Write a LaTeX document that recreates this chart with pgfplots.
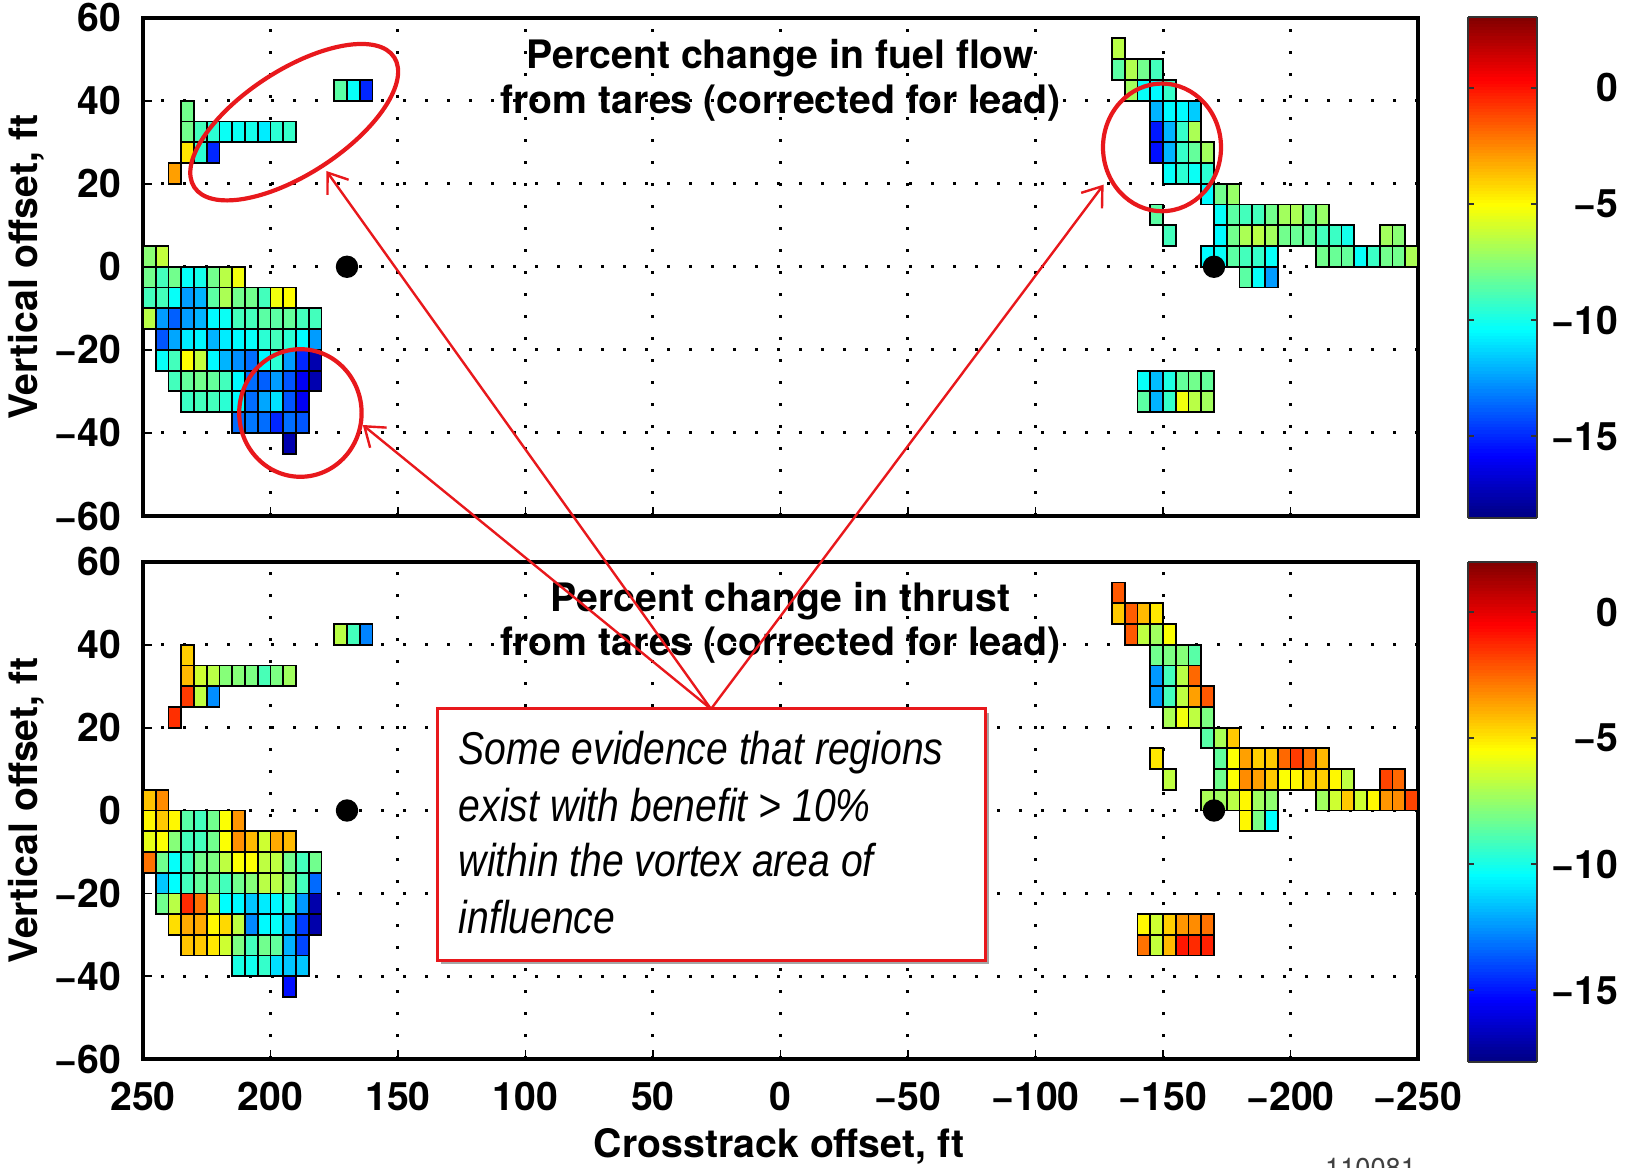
\documentclass[border=0pt]{standalone}
\usepackage{pgfplots}
\pgfplotsset{compat=1.18}
\usepackage{pgfplotstable}
\usepackage{fontspec}
\usepackage{graphicx}
\setmainfont{TeX Gyre Heros}
\newfontfamily\notefam{Liberation Sans}
\usetikzlibrary{arrows.meta,shadows}

\definecolor{annored}{RGB}{232,24,28}
\newcommand{\lblfont}{\fontsize{9.8pt}{11.5pt}\selectfont\bfseries}
\newcommand{\notefont}{\notefam\fontsize{11.5pt}{14pt}\selectfont\itshape}

% one measurement cell = 5 ft x 5 ft on each panel
\pgfdeclareplotmark{cellT}{\pgfpathrectangle{\pgfqpoint{-1.59375pt}{-2.5958pt}}{\pgfqpoint{3.1875pt}{5.1917pt}}\pgfusepathqfillstroke}
\pgfdeclareplotmark{cellB}{\pgfpathrectangle{\pgfqpoint{-1.59375pt}{-2.5906pt}}{\pgfqpoint{3.1875pt}{5.1813pt}}\pgfusepathqfillstroke}

% ---------------- fuel flow change, % (cell centres) ----------------
\pgfplotstableread{
x y c
237.5 22.5 -3.0
232.5 37.5 -8.0
232.5 32.5 -8.0
232.5 27.5 -4.5
227.5 32.5 -9.0
222.5 32.5 -9.5
217.5 32.5 -10.2
212.5 32.5 -10.2
207.5 32.5 -10.0
202.5 32.5 -10.8
197.5 32.5 -9.5
192.5 32.5 -9.3
227.5 27.5 -9.5
222.5 27.5 -15.0
172.5 42.5 -8.5
167.5 42.5 -10.3
162.5 42.5 -15.0
247.5 2.5 -7.5
242.5 2.5 -6.3
247.5 -2.5 -8.0
242.5 -2.5 -9.0
237.5 -2.5 -8.0
232.5 -2.5 -10.3
227.5 -2.5 -10.0
222.5 -2.5 -8.0
217.5 -2.5 -6.5
212.5 -2.5 -5.3
247.5 -7.5 -9.0
242.5 -7.5 -9.0
237.5 -7.5 -10.3
232.5 -7.5 -12.5
227.5 -7.5 -12.0
222.5 -7.5 -8.5
217.5 -7.5 -6.8
212.5 -7.5 -8.0
207.5 -7.5 -8.0
202.5 -7.5 -9.0
197.5 -7.5 -5.3
192.5 -7.5 -5.0
247.5 -12.5 -6.5
242.5 -12.5 -12.5
237.5 -12.5 -13.8
232.5 -12.5 -12.5
227.5 -12.5 -12.0
222.5 -12.5 -10.5
217.5 -12.5 -10.2
212.5 -12.5 -9.0
207.5 -12.5 -9.0
202.5 -12.5 -8.5
197.5 -12.5 -8.5
192.5 -12.5 -8.3
187.5 -12.5 -9.0
182.5 -12.5 -9.0
242.5 -17.5 -14.0
237.5 -17.5 -12.3
232.5 -17.5 -10.8
227.5 -17.5 -10.6
222.5 -17.5 -12.0
217.5 -17.5 -10.8
212.5 -17.5 -10.5
207.5 -17.5 -10.3
202.5 -17.5 -9.5
197.5 -17.5 -9.0
192.5 -17.5 -9.5
187.5 -17.5 -10.5
182.5 -17.5 -12.5
242.5 -22.5 -10.3
237.5 -22.5 -9.0
232.5 -22.5 -5.0
227.5 -22.5 -6.3
222.5 -22.5 -10.5
217.5 -22.5 -12.0
212.5 -22.5 -12.8
207.5 -22.5 -13.5
202.5 -22.5 -10.5
197.5 -22.5 -9.5
192.5 -22.5 -12.5
187.5 -22.5 -15.0
182.5 -22.5 -17.5
237.5 -27.5 -9.0
232.5 -27.5 -8.3
227.5 -27.5 -8.0
222.5 -27.5 -8.3
217.5 -27.5 -9.0
212.5 -27.5 -10.5
207.5 -27.5 -13.5
202.5 -27.5 -13.8
197.5 -27.5 -12.5
192.5 -27.5 -14.0
187.5 -27.5 -16.0
182.5 -27.5 -17.5
232.5 -32.5 -9.2
227.5 -32.5 -9.0
222.5 -32.5 -9.0
217.5 -32.5 -9.5
212.5 -32.5 -10.5
207.5 -32.5 -13.5
202.5 -32.5 -12.3
197.5 -32.5 -11.0
192.5 -32.5 -14.0
187.5 -32.5 -16.0
212.5 -37.5 -13.5
207.5 -37.5 -13.3
202.5 -37.5 -13.5
197.5 -37.5 -15.0
192.5 -37.5 -13.5
187.5 -37.5 -14.0
192.5 -42.5 -17.5
}\fuelleft

\pgfplotstableread{
x y c
-132.5 52.5 -6.5
-132.5 47.5 -8.5
-137.5 47.5 -6.7
-142.5 47.5 -8.0
-147.5 47.5 -9.0
-137.5 42.5 -7.0
-142.5 42.5 -10.3
-147.5 42.5 -10.5
-152.5 42.5 -9.3
-147.5 37.5 -12.0
-152.5 37.5 -10.5
-157.5 37.5 -10.5
-162.5 37.5 -11.5
-147.5 32.5 -15.3
-152.5 32.5 -12.0
-157.5 32.5 -9.3
-162.5 32.5 -6.8
-147.5 27.5 -15.5
-152.5 27.5 -12.0
-157.5 27.5 -9.3
-162.5 27.5 -8.3
-167.5 27.5 -7.0
-152.5 22.5 -10.3
-157.5 22.5 -9.5
-162.5 22.5 -10.2
-167.5 22.5 -9.5
-167.5 17.5 -10.5
-172.5 17.5 -8.0
-177.5 17.5 -7.2
-147.5 12.5 -8.5
-172.5 12.5 -10.3
-177.5 12.5 -8.5
-182.5 12.5 -9.0
-187.5 12.5 -9.0
-192.5 12.5 -8.0
-197.5 12.5 -7.0
-202.5 12.5 -6.8
-207.5 12.5 -8.0
-212.5 12.5 -7.2
-152.5 7.5 -9.0
-172.5 7.5 -10.5
-177.5 7.5 -8.0
-182.5 7.5 -6.8
-187.5 7.5 -6.5
-192.5 7.5 -7.0
-197.5 7.5 -8.0
-202.5 7.5 -8.2
-207.5 7.5 -8.3
-212.5 7.5 -9.0
-217.5 7.5 -9.2
-222.5 7.5 -10.0
-237.5 7.5 -7.0
-242.5 7.5 -7.5
-167.5 2.5 -10.5
-172.5 2.5 -10.3
-177.5 2.5 -8.5
-182.5 2.5 -9.0
-187.5 2.5 -9.3
-192.5 2.5 -10.3
-212.5 2.5 -8.0
-217.5 2.5 -8.2
-222.5 2.5 -8.3
-227.5 2.5 -10.3
-232.5 2.5 -9.2
-237.5 2.5 -8.0
-242.5 2.5 -8.0
-247.5 2.5 -6.8
-182.5 -2.5 -8.5
-187.5 -2.5 -10.3
-192.5 -2.5 -12.5
-142.5 -27.5 -10.3
-147.5 -27.5 -11.8
-152.5 -27.5 -9.8
-157.5 -27.5 -8.3
-162.5 -27.5 -8.0
-167.5 -27.5 -8.3
-142.5 -32.5 -8.5
-147.5 -32.5 -12.0
-152.5 -32.5 -9.3
-157.5 -32.5 -5.3
-162.5 -32.5 -6.5
-167.5 -32.5 -7.0
}\fuelright

% ---------------- thrust change, % (cell centres) ----------------
\pgfplotstableread{
x y c
237.5 22.5 -1.4
232.5 37.5 -4.5
232.5 32.5 -4.1
232.5 27.5 -1.6
227.5 32.5 -6.4
222.5 32.5 -6.8
217.5 32.5 -7.8
212.5 32.5 -7.8
207.5 32.5 -8.0
202.5 32.5 -9.0
197.5 32.5 -8.0
192.5 32.5 -7.3
227.5 27.5 -6.7
222.5 27.5 -12.6
172.5 42.5 -6.8
167.5 42.5 -9.1
162.5 42.5 -12.8
247.5 2.5 -4.3
242.5 2.5 -3.2
247.5 -2.5 -5.3
242.5 -2.5 -4.4
237.5 -2.5 -5.3
232.5 -2.5 -8.7
227.5 -2.5 -9.1
222.5 -2.5 -8.2
217.5 -2.5 -5.5
212.5 -2.5 -3.4
247.5 -7.5 -5.9
242.5 -7.5 -5.5
237.5 -7.5 -7.8
232.5 -7.5 -9.1
227.5 -7.5 -9.1
222.5 -7.5 -8.2
217.5 -7.5 -5.5
212.5 -7.5 -3.3
207.5 -7.5 -4.1
202.5 -7.5 -6.4
197.5 -7.5 -3.8
192.5 -7.5 -4.1
247.5 -12.5 -2.7
242.5 -12.5 -8.2
237.5 -12.5 -10.3
232.5 -12.5 -9.1
227.5 -12.5 -8.2
222.5 -12.5 -8.0
217.5 -12.5 -6.7
212.5 -12.5 -5.5
207.5 -12.5 -5.5
202.5 -12.5 -6.7
197.5 -12.5 -6.7
192.5 -12.5 -8.2
187.5 -12.5 -9.1
182.5 -12.5 -8.2
242.5 -17.5 -11.5
237.5 -17.5 -10.4
232.5 -17.5 -9.1
227.5 -17.5 -8.5
222.5 -17.5 -8.2
217.5 -17.5 -9.1
212.5 -17.5 -8.2
207.5 -17.5 -7.8
202.5 -17.5 -6.8
197.5 -17.5 -6.8
192.5 -17.5 -7.8
187.5 -17.5 -9.1
182.5 -17.5 -13.3
242.5 -22.5 -8.2
237.5 -22.5 -6.8
232.5 -22.5 -1.3
227.5 -22.5 -2.7
222.5 -22.5 -6.7
217.5 -22.5 -10.4
212.5 -22.5 -10.5
207.5 -22.5 -11.5
202.5 -22.5 -10.8
197.5 -22.5 -10.5
192.5 -22.5 -9.6
187.5 -22.5 -12.4
182.5 -22.5 -17.0
237.5 -27.5 -4.8
232.5 -27.5 -3.8
227.5 -27.5 -3.8
222.5 -27.5 -5.3
217.5 -27.5 -4.7
212.5 -27.5 -6.7
207.5 -27.5 -12.7
202.5 -27.5 -10.5
197.5 -27.5 -10.3
192.5 -27.5 -11.7
187.5 -27.5 -14.2
182.5 -27.5 -17.0
232.5 -32.5 -4.3
227.5 -32.5 -4.4
222.5 -32.5 -5.0
217.5 -32.5 -6.4
212.5 -32.5 -8.0
207.5 -32.5 -9.1
202.5 -32.5 -8.2
197.5 -32.5 -8.5
192.5 -32.5 -11.9
187.5 -32.5 -14.0
212.5 -37.5 -9.9
207.5 -37.5 -10.1
202.5 -37.5 -9.4
197.5 -37.5 -11.0
192.5 -37.5 -11.5
187.5 -37.5 -11.5
192.5 -42.5 -15.1
}\thrustleft

\pgfplotstableread{
x y c
-132.5 52.5 -2.2
-132.5 47.5 -4.4
-137.5 47.5 -2.3
-142.5 47.5 -4.1
-147.5 47.5 -5.0
-137.5 42.5 -2.2
-142.5 42.5 -6.7
-147.5 42.5 -7.3
-152.5 42.5 -5.5
-147.5 37.5 -8.2
-152.5 37.5 -8.0
-157.5 37.5 -7.8
-162.5 37.5 -8.7
-147.5 32.5 -12.4
-152.5 32.5 -9.1
-157.5 32.5 -6.8
-162.5 32.5 -2.5
-147.5 27.5 -12.4
-152.5 27.5 -9.1
-157.5 27.5 -6.7
-162.5 27.5 -3.6
-167.5 27.5 -2.2
-152.5 22.5 -7.1
-157.5 22.5 -5.7
-162.5 22.5 -6.7
-167.5 22.5 -8.0
-167.5 17.5 -8.7
-172.5 17.5 -7.1
-177.5 17.5 -4.4
-147.5 12.5 -5.0
-172.5 12.5 -8.5
-177.5 12.5 -5.5
-182.5 12.5 -3.6
-187.5 12.5 -4.5
-192.5 12.5 -4.4
-197.5 12.5 -2.5
-202.5 12.5 -1.6
-207.5 12.5 -2.7
-212.5 12.5 -4.1
-152.5 7.5 -6.7
-172.5 7.5 -8.2
-177.5 7.5 -5.5
-182.5 7.5 -3.2
-187.5 7.5 -3.6
-192.5 7.5 -4.4
-197.5 7.5 -5.5
-202.5 7.5 -5.3
-207.5 7.5 -4.4
-212.5 7.5 -4.5
-217.5 7.5 -5.3
-222.5 7.5 -6.7
-237.5 7.5 -1.8
-242.5 7.5 -2.5
-167.5 2.5 -7.1
-172.5 2.5 -7.3
-177.5 2.5 -6.8
-182.5 2.5 -5.3
-187.5 2.5 -7.3
-192.5 2.5 -7.6
-212.5 2.5 -7.3
-217.5 2.5 -6.4
-222.5 2.5 -4.4
-227.5 2.5 -6.4
-232.5 2.5 -5.3
-237.5 2.5 -3.4
-242.5 2.5 -3.2
-247.5 2.5 -1.8
-182.5 -2.5 -5.3
-187.5 -2.5 -8.0
-192.5 -2.5 -10.4
-142.5 -27.5 -5.3
-147.5 -27.5 -6.4
-152.5 -27.5 -4.5
-157.5 -27.5 -3.4
-162.5 -27.5 -3.2
-167.5 -27.5 -2.7
-142.5 -32.5 -2.7
-147.5 -32.5 -6.6
-152.5 -32.5 -4.1
-157.5 -32.5 -0.9
-162.5 -32.5 -1.3
-167.5 -32.5 -1.1
}\thrustright

\pgfplotsset{
  panel/.style={
    scale only axis, width=318.75pt,
    xmin=-250, xmax=250, x dir=reverse, ymin=-60, ymax=60,
    xtick={-250,-200,...,250}, ytick={-60,-40,...,60},
    yticklabels={−60,−40,−20,0,20,40,60},
    xtick pos=left, ytick pos=left,
    tick align=inside, major tick length=2.3pt,
    tick style={black, line width=0.45pt},
    axis line style={line width=1pt},
    grid=major,
    major grid style={black, line width=0.75pt, dash pattern=on 0.75pt off 4.75pt},
    ticklabel style={font=\lblfont},
    yticklabel style={xshift=-1.9pt},
    xticklabel style={yshift=-2.2pt},
    colormap/jet,
    colorbar sampled,
  },
  cbar/.style={
    at={(parent axis.north east)}, anchor=north west, xshift=3.97pt,
    scale only axis, width=17.25pt, samples=160,
    xtick=\empty,
    ytick={-15,-10,-5,0}, yticklabels={−15,−10,−5,0},
    ytick pos=both, yticklabel pos=right,
    tick align=inside, major tick length=1.4pt,
    tick style={black!80, line width=0.5pt},
    axis line style={line width=0.5pt, black!80},
    yticklabel style={font=\lblfont, anchor=east, inner sep=0pt, xshift=20.5pt},
  },
  gridcells/.style={scatter, only marks, mark=#1, line width=0.45pt,
    scatter/use mapped color={draw=black, fill=mapped color}},
}

\begin{document}
\begin{tikzpicture}
\path[use as bounding box] (0,0) rectangle (406.25pt,291.75pt);

% ---- upper panel: fuel flow ----
\begin{axis}[panel,
  at={(35.75pt,162.75pt)}, anchor=south west, height=124.6pt,
  xticklabels={},
  point meta min=-18.5, point meta max=3.05,
  colorbar style={cbar, height=125.3pt, yshift=0.22pt},
]
\addplot[gridcells=cellT, point meta=\thisrow{c}] table[x=x, y=y] {\fuelleft};
\addplot[gridcells=cellT, point meta=\thisrow{c}] table[x=x, y=y] {\fuelright};
\addplot[only marks, mark=*, mark size=2.6pt, black, point meta=none] coordinates {(170,0) (-170,0)};
\node[anchor=base, font=\lblfont] at (axis cs:0,47.8) {Percent change in fuel flow};
\node[anchor=base, font=\lblfont] at (axis cs:0,36.8) {from tares (corrected for lead)};
\draw[line width=1pt] (rel axis cs:0,0) rectangle (rel axis cs:1,1);
\end{axis}

% ---- lower panel: thrust ----
\begin{axis}[panel,
  at={(35.75pt,26.95pt)}, anchor=south west, height=124.35pt,
  xticklabels={−250,−200,−150,−100,−50,0,50,100,150,200,250},
  point meta min=-17.85, point meta max=2.0,
  colorbar style={cbar, height=125.1pt},
]
\addplot[gridcells=cellB, point meta=\thisrow{c}] table[x=x, y=y] {\thrustleft};
\addplot[gridcells=cellB, point meta=\thisrow{c}] table[x=x, y=y] {\thrustright};
\addplot[only marks, mark=*, mark size=2.6pt, black, point meta=none] coordinates {(170,0) (-170,0)};
\node[anchor=base, font=\lblfont] at (axis cs:0,48.0) {Percent change in thrust};
\node[anchor=base, font=\lblfont] at (axis cs:0,37.3) {from tares (corrected for lead)};
\draw[line width=1pt] (rel axis cs:0,0) rectangle (rel axis cs:1,1);
\end{axis}

% axis titles
\node[rotate=90, anchor=base, font=\lblfont] at (9.3pt,225.05pt) {Vertical offset, ft};
\node[rotate=90, anchor=base, font=\lblfont] at (9.3pt,89.1pt) {Vertical offset, ft};
\node[anchor=base, font=\lblfont] at (194.75pt,2.3pt) {Crosstrack offset, ft};
\node[anchor=north west, inner sep=0pt, font=\fontsize{6.8pt}{8pt}\selectfont, text=black!75] at (331.1pt,2.35pt) {110081};

% call-outs
\begin{scope}[annored]
  \draw[line width=1.05pt, shift={(73.55pt,261.2pt)}, rotate=33] (0,0) ellipse (29.8pt and 13pt);
  \draw[line width=1.05pt] (75.1pt,188.5pt) ellipse (15.3pt and 15.95pt);
  \draw[line width=1.05pt] (290.5pt,254.9pt) ellipse (14.75pt and 15.95pt);
  \draw[line width=0.6pt, -{Straight Barb[length=4.5pt,width=6.5pt]}] (177.75pt,114.5pt) -- (81.6pt,249pt);
  \draw[line width=0.6pt, -{Straight Barb[length=4.5pt,width=6.5pt]}] (177.75pt,114.5pt) -- (90.7pt,185.5pt);
  \draw[line width=0.6pt, -{Straight Barb[length=4.5pt,width=6.5pt]}] (177.75pt,114.5pt) -- (275.9pt,245.6pt);
  \draw[line width=0.75pt, fill=white,
        drop shadow={shadow xshift=0.9pt, shadow yshift=-0.9pt, opacity=0.35, fill=black}]
        (109.25pt,51.75pt) rectangle (246.25pt,114.5pt);
\end{scope}
\node[anchor=base west, inner sep=0pt, font=\notefont] at (114.5pt,100.5pt) {\scalebox{0.85}[1]{Some evidence that regions}};
\node[anchor=base west, inner sep=0pt, font=\notefont] at (114.5pt,86.33pt) {\scalebox{0.85}[1]{exist with benefit > 10\%}};
\node[anchor=base west, inner sep=0pt, font=\notefont] at (114.5pt,72.58pt) {\scalebox{0.85}[1]{within the vortex area of}};
\node[anchor=base west, inner sep=0pt, font=\notefont] at (114.5pt,58.43pt) {\scalebox{0.85}[1]{influence}};
\end{tikzpicture}
\end{document}
